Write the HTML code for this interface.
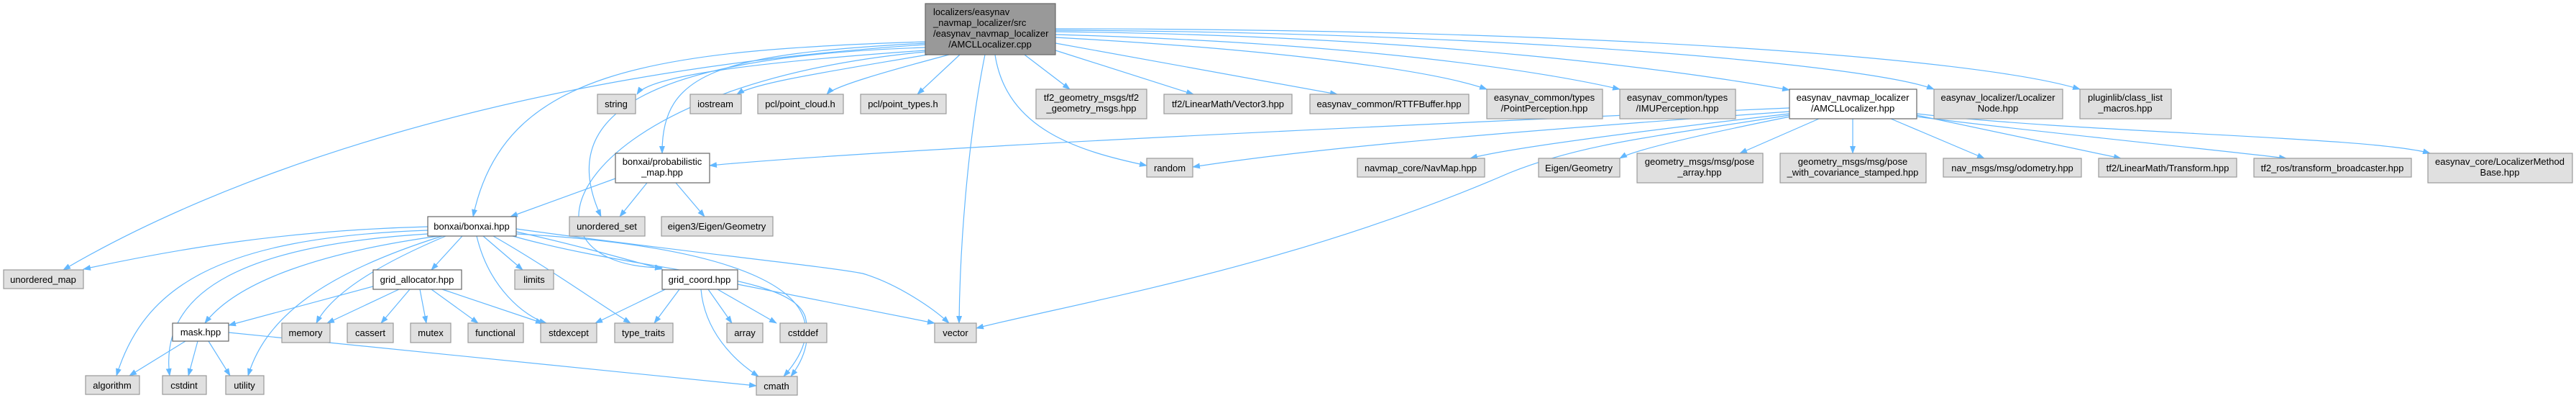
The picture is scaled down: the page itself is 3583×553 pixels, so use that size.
<!DOCTYPE html>
<html><head><meta charset="utf-8"><style>
html,body{margin:0;padding:0;background:#fff;}
svg{display:block;}
text{font-family:"Liberation Sans",sans-serif;font-size:13px;fill:#000;}
.g{fill:#e0e0e0;stroke:#999;stroke-width:1.2;}
.w{fill:#fff;stroke:#666;stroke-width:1.2;}
.m{fill:#999;stroke:#666;stroke-width:1.2;}
.e{fill:none;stroke:#63b8ff;stroke-width:1.2;marker-end:url(#a);}
</style></head><body>
<svg width="3583" height="553" viewBox="0 0 3583 553" xmlns="http://www.w3.org/2000/svg">
<defs><marker id="a" markerWidth="11" markerHeight="8" refX="10" refY="4" orient="auto" markerUnits="userSpaceOnUse"><path d="M0,0 L11,4 L0,8 z" fill="#63b8ff"/></marker></defs>
<g>
<path class="e" d="M1287,62 C700,100 300,250 88,375"/>
<path class="e" d="M1287,70 C1000,90 900,110 886,131"/>
<path class="e" d="M1290,76 C1150,100 1050,115 1025,131"/>
<path class="e" d="M1320,76 C1230,100 1160,120 1150,131"/>
<path class="e" d="M1335,76 L1276,131"/>
<path class="e" d="M1287,58 C900,70 700,100 658,301"/>
<path class="e" d="M1287,60 C1000,75 920,100 921,213"/>
<path class="e" d="M1287,66 C850,80 780,180 836,301"/>
<path class="e" d="M1287,72 C780,120 700,370 921,372"/>
<path class="e" d="M1370,76 C1345,200 1335,350 1334,449"/>
<path class="e" d="M1384,76 C1400,180 1500,210 1595,230"/>
<path class="e" d="M1425,76 L1488,124"/>
<path class="e" d="M1468,70 L1660,131"/>
<path class="e" d="M1468,60 L1860,131"/>
<path class="e" d="M1468,52 C1800,70 2000,100 2068,124"/>
<path class="e" d="M1468,48 C1900,60 2150,100 2253,124"/>
<path class="e" d="M1468,44 C2000,50 2350,100 2489,125"/>
<path class="e" d="M1468,42 C2100,45 2600,90 2690,124"/>
<path class="e" d="M1468,40 C2200,40 2750,80 2893,124"/>
<path class="e" d="M2489,150 C1800,180 1200,210 987,230"/>
<path class="e" d="M2489,155 C2000,190 1800,210 1659,232"/>
<path class="e" d="M2489,158 C2300,180 2100,205 2045,220"/>
<path class="e" d="M2500,160 C2350,190 2270,210 2253,220"/>
<path class="e" d="M2530,165 L2420,213"/>
<path class="e" d="M2577,165 L2577,213"/>
<path class="e" d="M2630,165 L2760,220"/>
<path class="e" d="M2666,160 L2950,220"/>
<path class="e" d="M2666,162 C2800,180 3100,210 3180,220"/>
<path class="e" d="M2666,158 C2900,185 3300,190 3380,213"/>
<path class="e" d="M2489,160 C2300,190 2200,200 2100,240 C1800,370 1500,420 1358,456"/>
<path class="e" d="M856,248 L710,301"/>
<path class="e" d="M900,254 L862,301"/>
<path class="e" d="M940,254 L980,301"/>
<path class="e" d="M595,315 C400,320 250,345 116,374"/>
<path class="e" d="M595,320 C300,330 200,400 162,522"/>
<path class="e" d="M595,325 C350,340 220,400 236,522"/>
<path class="e" d="M610,328 C450,350 330,390 285,449"/>
<path class="e" d="M615,328 C450,380 370,440 345,522"/>
<path class="e" d="M620,328 C520,370 460,410 440,449"/>
<path class="e" d="M643,328 L600,375"/>
<path class="e" d="M663,328 C680,400 730,440 760,449"/>
<path class="e" d="M672,328 L727,375"/>
<path class="e" d="M686,328 C760,370 830,420 877,449"/>
<path class="e" d="M718,322 C800,340 870,360 921,374"/>
<path class="e" d="M718,318 C950,350 1150,370 1200,380 C1250,395 1300,430 1320,449"/>
<path class="e" d="M713,328 C900,380 1100,380 1120,440 C1130,480 1110,510 1100,523"/>
<path class="e" d="M718,325 C1000,340 1200,400 1090,523"/>
<path class="e" d="M530,395 L318,452"/>
<path class="e" d="M555,402 L455,449"/>
<path class="e" d="M570,402 L530,449"/>
<path class="e" d="M584,402 L593,449"/>
<path class="e" d="M600,402 L665,449"/>
<path class="e" d="M615,402 L755,449"/>
<path class="e" d="M258,474 L180,522"/>
<path class="e" d="M275,474 L262,522"/>
<path class="e" d="M290,474 L320,522"/>
<path class="e" d="M318,462 L1052,536"/>
<path class="e" d="M945,402 L910,449"/>
<path class="e" d="M940,395 L828,449"/>
<path class="e" d="M985,402 L1018,449"/>
<path class="e" d="M998,402 L1080,449"/>
<path class="e" d="M975,402 C980,460 1020,500 1055,523"/>
<path class="e" d="M1026,395 L1300,449"/>
</g>
<g text-anchor="middle">
<rect class="m" x="1287" y="5" width="181" height="71"/>
<text x="1298" y="21" text-anchor="start">localizers/easynav</text>
<text x="1298" y="36" text-anchor="start">_navmap_localizer/src</text>
<text x="1298" y="51" text-anchor="start">/easynav_navmap_localizer</text>
<text x="1377" y="66">/AMCLLocalizer.cpp</text>

<rect class="g" x="831" y="131" width="53" height="27"/><text x="857" y="149">string</text>
<rect class="g" x="960" y="131" width="71" height="27"/><text x="995" y="149">iostream</text>
<rect class="g" x="1054" y="131" width="119" height="27"/><text x="1113" y="149">pcl/point_cloud.h</text>
<rect class="g" x="1197" y="131" width="119" height="27"/><text x="1256" y="149">pcl/point_types.h</text>
<rect class="g" x="1441" y="124" width="154" height="41"/><text x="1518" y="140">tf2_geometry_msgs/tf2</text><text x="1518" y="155">_geometry_msgs.hpp</text>
<rect class="g" x="1619" y="131" width="178" height="27"/><text x="1708" y="149">tf2/LinearMath/Vector3.hpp</text>
<rect class="g" x="1822" y="131" width="221" height="27"/><text x="1932" y="149">easynav_common/RTTFBuffer.hpp</text>
<rect class="g" x="2068" y="124" width="161" height="41"/><text x="2148" y="140">easynav_common/types</text><text x="2148" y="155">/PointPerception.hpp</text>
<rect class="g" x="2253" y="124" width="161" height="41"/><text x="2333" y="140">easynav_common/types</text><text x="2333" y="155">/IMUPerception.hpp</text>
<rect class="w" x="2489" y="124" width="177" height="41"/><text x="2577" y="140">easynav_navmap_localizer</text><text x="2577" y="155">/AMCLLocalizer.hpp</text>
<rect class="g" x="2690" y="124" width="179" height="41"/><text x="2779" y="140">easynav_localizer/Localizer</text><text x="2779" y="155">Node.hpp</text>
<rect class="g" x="2893" y="124" width="127" height="41"/><text x="2956" y="140">pluginlib/class_list</text><text x="2956" y="155">_macros.hpp</text>

<rect class="w" x="856" y="213" width="131" height="41"/><text x="921" y="229">bonxai/probabilistic</text><text x="921" y="244">_map.hpp</text>
<rect class="g" x="1595" y="220" width="64" height="26"/><text x="1627" y="238">random</text>
<rect class="g" x="1888" y="220" width="177" height="26"/><text x="1976" y="238">navmap_core/NavMap.hpp</text>
<rect class="g" x="2140" y="220" width="113" height="26"/><text x="2196" y="238">Eigen/Geometry</text>
<rect class="g" x="2277" y="213" width="175" height="41"/><text x="2364" y="229">geometry_msgs/msg/pose</text><text x="2364" y="244">_array.hpp</text>
<rect class="g" x="2476" y="213" width="203" height="41"/><text x="2577" y="229">geometry_msgs/msg/pose</text><text x="2577" y="244">_with_covariance_stamped.hpp</text>
<rect class="g" x="2703" y="220" width="192" height="26"/><text x="2799" y="238">nav_msgs/msg/odometry.hpp</text>
<rect class="g" x="2919" y="220" width="192" height="26"/><text x="3015" y="238">tf2/LinearMath/Transform.hpp</text>
<rect class="g" x="3135" y="220" width="219" height="26"/><text x="3244" y="238">tf2_ros/transform_broadcaster.hpp</text>
<rect class="g" x="3377" y="213" width="201" height="41"/><text x="3477" y="229">easynav_core/LocalizerMethod</text><text x="3477" y="244">Base.hpp</text>

<rect class="w" x="595" y="301" width="123" height="27"/><text x="656" y="319">bonxai/bonxai.hpp</text>
<rect class="g" x="792" y="301" width="105" height="27"/><text x="844" y="319">unordered_set</text>
<rect class="g" x="920" y="301" width="155" height="27"/><text x="997" y="319">eigen3/Eigen/Geometry</text>

<rect class="g" x="5" y="375" width="111" height="26"/><text x="60" y="393">unordered_map</text>
<rect class="w" x="519" y="375" width="123" height="27"/><text x="580" y="393">grid_allocator.hpp</text>
<rect class="g" x="716" y="375" width="54" height="27"/><text x="743" y="393">limits</text>
<rect class="w" x="921" y="375" width="105" height="27"/><text x="973" y="393">grid_coord.hpp</text>

<rect class="w" x="240" y="449" width="78" height="25"/><text x="279" y="466">mask.hpp</text>
<rect class="g" x="392" y="449" width="67" height="27"/><text x="425" y="467">memory</text>
<rect class="g" x="483" y="449" width="64" height="27"/><text x="515" y="467">cassert</text>
<rect class="g" x="571" y="449" width="56" height="27"/><text x="599" y="467">mutex</text>
<rect class="g" x="651" y="449" width="77" height="27"/><text x="689" y="467">functional</text>
<rect class="g" x="752" y="449" width="78" height="27"/><text x="791" y="467">stdexcept</text>
<rect class="g" x="855" y="449" width="81" height="27"/><text x="895" y="467">type_traits</text>
<rect class="g" x="1011" y="449" width="50" height="27"/><text x="1036" y="467">array</text>
<rect class="g" x="1085" y="449" width="65" height="27"/><text x="1117" y="467">cstddef</text>
<rect class="g" x="1300" y="449" width="58" height="27"/><text x="1329" y="467">vector</text>

<rect class="g" x="119" y="522" width="75" height="26"/><text x="156" y="540">algorithm</text>
<rect class="g" x="226" y="522" width="61" height="26"/><text x="256" y="540">cstdint</text>
<rect class="g" x="314" y="522" width="53" height="26"/><text x="340" y="540">utility</text>
<rect class="g" x="1052" y="523" width="57" height="26"/><text x="1080" y="541">cmath</text>
</g>
</svg>
</body></html>
